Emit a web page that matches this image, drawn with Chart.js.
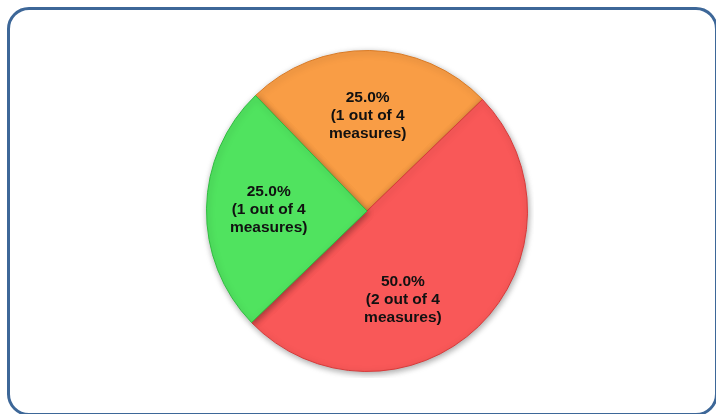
<!DOCTYPE html>
<html>
<head>
<meta charset="utf-8">
<script src="https://cdn.jsdelivr.net/npm/chart.js@4.4.6/dist/chart.umd.js"></script>
<style>
  html, body { margin: 0; padding: 0; background: #fff; overflow: hidden; }
  body { width: 716px; height: 414px; position: relative; }
  .frame {
    position: absolute; left: 7px; top: 7px; width: 711px; height: 409px;
    border: 3px solid #3d6798; border-radius: 22px; box-sizing: border-box;
  }
  .pie-box { position: absolute; left: 200px; top: 44px; width: 334px; height: 334px; }
</style>
</head>
<body>
<div class="frame"></div>
<div class="pie-box"><canvas id="pie"></canvas></div>
<script>
const categories = ['Orange', 'Red', 'Green'];
const measureCounts = [1, 2, 1];
const totalMeasures = 4;
const sliceColors = ['#f99d45', '#f95858', '#50e35f'];
const edgeColors = ['#d97a25', '#d83a3a', '#30bd40'];

const pct = (n) => `${((n / totalMeasures) * 100).toFixed(1)}%`;

// darker rim toward the outer edge, like the bevel in the original
const sliceFill = (ctx) => {
  const arc = ctx.element;
  const i = ctx.dataIndex;
  if (!arc || arc.outerRadius == null || !arc.outerRadius) return sliceColors[i];
  const g = ctx.chart.ctx.createRadialGradient(arc.x, arc.y, 0, arc.x, arc.y, arc.outerRadius);
  g.addColorStop(0, sliceColors[i]);
  g.addColorStop(0.88, sliceColors[i]);
  g.addColorStop(1, edgeColors[i]);
  return g;
};

const shadowPlugin = {
  id: 'shadow',
  beforeDatasetDraw(chart) {
    const c = chart.ctx;
    c.save();
    c.shadowColor = 'rgba(0,0,0,0.35)';
    c.shadowBlur = 6;
    c.shadowOffsetX = 1;
    c.shadowOffsetY = 2;
  },
  afterDatasetDraw(chart) {
    chart.ctx.restore();
  }
};

const labelShift = [[-1, 1], [-31, 19], [-2, 0]];

const labelPlugin = {
  id: 'sliceLabels',
  afterDatasetsDraw(chart) {
    const c = chart.ctx;
    const meta = chart.getDatasetMeta(0);
    c.save();
    c.font = 'bold 15.5px "Liberation Sans", Arial, sans-serif';
    c.fillStyle = '#111';
    c.textAlign = 'center';
    c.textBaseline = 'middle';
    meta.data.forEach((arc, i) => {
      const mid = (arc.startAngle + arc.endAngle) / 2;
      const r = arc.outerRadius * 0.6;
      const x = arc.x + Math.cos(mid) * r + labelShift[i][0];
      const y = arc.y + Math.sin(mid) * r + labelShift[i][1];
      const lines = [pct(measureCounts[i]), `(${measureCounts[i]} out of ${totalMeasures}`, 'measures)'];
      lines.forEach((t, k) => c.fillText(t, x, y + (k - 1) * 18));
    });
    c.restore();
  }
};

new Chart(document.getElementById('pie'), {
  type: 'pie',
  data: {
    labels: categories,
    datasets: [{
      data: measureCounts,
      backgroundColor: sliceFill,
      borderColor: edgeColors,
      borderWidth: 1
    }]
  },
  options: {
    responsive: true,
    maintainAspectRatio: false,
    animation: false,
    rotation: -44,
    layout: { padding: 6 },
    plugins: {
      legend: { display: false },
      tooltip: { enabled: false }
    }
  },
  plugins: [shadowPlugin, labelPlugin]
});
</script>
</body>
</html>
